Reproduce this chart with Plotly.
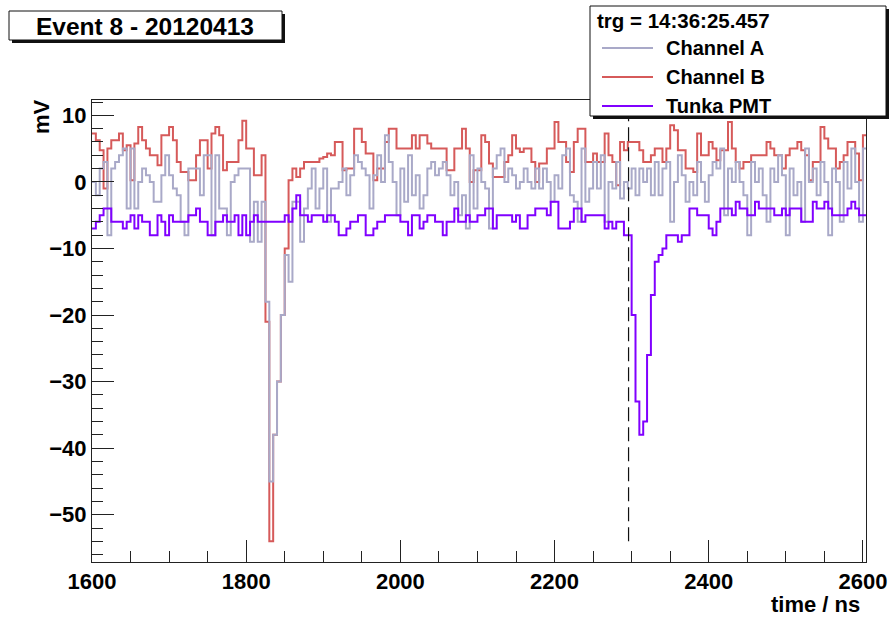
import numpy as np
import plotly.graph_objects as go

# Histogram binning (5 ns bins starting at 1600 ns)
t_start = 1600.0
bin_width = 5.0

# Channel A amplitude per bin (mV)
channel_a = [
    0, -2, 2, 3, -8, 2, 3, 4, 5, -4,
    5, -4, 0, 2, 1, 0, -3, -3, 1, 4,
    1, -1, -2, -6, -8, 2, 2, 2, -2, 4,
    4, -8, 4, -4, -4, -8, 0, 1, 2, 2,
    2, -9, -3, -9, -3, -18, -45, -38, -30, -20,
    -11, -15, -3, -3, -9, -4, -1, 2, -4, -1,
    2, -6, -1, -1, 0, 2, -2, 1, 4, 3,
    2, 1, -4, 1, 4, 0, 7, 3, 0, -5,
    2, -3, 4, -2, 1, -4, -2, 2, 3, 1,
    2, 3, 1, -2, 0, -5, -2, -7, 4, -4,
    2, 0, -1, -7, 2, 4, 5, 0, 2, 1,
    -1, 0, 2, 0, -1, 2, -1, 2, 0, -3,
    1, -1, 4, 5, -2, -3, -6, 5, -3, -1,
    3, -1, 4, -6, 0, -1, 3, -2.5, 0, -1,
    2, -2, 2, 0, 2, -2, 3, -2, 2, 3,
    -6, 0, 4, 1, -3, 0, -2, 3, 0, -3,
    1, 3, 2, 5, -5, 2, 0, 3, 0, -2,
    -8, 3, 0, 2, -2, -6, 2, 0, 4, 1,
    -8, 2, -2, 0, -6, 5, 0, 2, -2, 3,
    0, -8, 2, 0, -6, 3, -1, 5, 0, -6,
    5,
]

# Channel B amplitude per bin (mV)
channel_b = [
    7.25, 6.25, 4.75, -1, 5, 6.25, 6.25, 7.25, 4.75, 5.5,
    0.25, 5.75, 8.25, 6.25, 5, 4, 4, 2.5, 7, 7,
    8.25, 6.25, 3, 1.5, 1.5, 0.25, 0.25, 4, 6.25, 6.25,
    2, 7.25, 8.25, 7, 1.75, 3, 3, 3, 6.25, 9.2,
    5, 5, 1, 1, 4, -21, -54, -38, -30, -20,
    -10, 0.25, 2, 0.75, 2, 3, 3, 3, 3, 3.5,
    3.75, 4.25, 4, 6, 6, 1.75, 2, 2, 8, 8,
    6, 4.25, 4.25, 0.25, 2, 2, 6, 8, 8, 5,
    5, 5, 5, 7, 5, 7, 7, 5.75, 5, 5,
    5, 5, 1.75, 1.75, 5, 5, 8, 5, 0, 1.75,
    1.75, 7, 6, 2.75, 0.75, 0.75, 0.75, 3, 4, 7,
    5, 4.5, 5, 5, 3, 0, 2.75, 2.75, 5, 5,
    9, 6, 6, 3, 1.5, 6, 8, 8, 3, 3,
    4.25, 3, 3, 7.25, 4, 3, -0.5, 6, 4.75, 6,
    6, 6, 4.75, 3, 3, 4, 5, 5, 3, 5,
    8.5, 7.75, 4.75, 4.75, 2, 2, 1.5, 7.25, 4, 4,
    6, 5, 3.25, 4.75, 4.75, 9, 5, 3, 2, 3,
    3, 4, 4, 4, 4, 6, 5, 4, 4, 2,
    4, 5, 5, 6, 4.75, 4, 0.25, 3, 3, 8.25,
    6.5, 5, 5, 2, 3, 4, 6, 6, 4.25, 0.25,
    7,
]

# Tunka PMT amplitude per bin (mV)
tunka_pmt = [
    -7, -6, -5, -4, -4, -6, -6, -6, -7, -6,
    -5, -7, -5, -6, -6, -8, -8, -5, -6, -8,
    -5, -6, -6, -6, -6, -5, -5, -4, -6, -6,
    -8, -8, -6, -6, -5, -6, -6, -5, -8, -5,
    -8, -6, -5, -6, -6, -6, -6, -6, -6, -6,
    -5, -6, -4, -2, -5, -5, -6, -5, -5, -5,
    -6, -5, -5, -6, -8, -8, -7, -6, -6, -5,
    -5, -8, -8, -7, -6, -6, -5, -5, -5, -5,
    -6, -6, -8, -5, -5, -7, -6, -5, -5, -6,
    -6, -8, -6, -6, -4, -6, -6, -5, -6, -6,
    -5, -5, -4, -4, -7, -5, -5, -5, -5, -6,
    -5, -7, -7, -5, -5, -4, -4, -4, -5, -3,
    -3, -7, -7, -7, -6, -4, -4, -6, -5, -5,
    -5, -5, -5, -7, -6, -7, -6, -6, -8, -8,
    -20, -33, -38, -36, -26, -17, -12, -11, -10, -8,
    -8, -8, -9, -8, -8, -4, -4, -5, -5, -5,
    -7, -8, -6, -4, -4, -4, -5, -3, -4, -4,
    -5, -5, -3, -4, -4, -4, -4, -5, -5, -4,
    -5, -4, -4, -4, -6, -6, -6, -3, -4, -4,
    -3, -4, -5, -5, -5, -5, -4, -3, -4, -5,
    -5,
]

series_names = ["Channel A", "Channel B", "Tunka PMT"]
series_colors = ["#a9a9c8", "#d65a5a", "#8000ff"]

event_title = "Event 8 - 20120413"
trigger_label = "trg = 14:36:25.457"
trigger_time = 2296.0

x_range = [1600, 2604]
y_range = [-57.1, 12.3]

W, H = 891, 617
ML, MR, MT, MB = 92, 25, 100, 55
PW, PH = W - ML - MR, H - MT - MB


def px(X):
    return (X - ML) / PW


def py(Y):
    return (H - MB - Y) / PH


n_bins = len(channel_a)
edges = t_start + bin_width * np.arange(n_bins + 1)

fig = go.Figure()

# draw B first so that A and the PMT trace sit on top of it
for name in ["Channel B", "Channel A", "Tunka PMT"]:
    vals = {"Channel A": channel_a, "Channel B": channel_b, "Tunka PMT": tunka_pmt}[name]
    color = series_colors[series_names.index(name)]
    fig.add_trace(go.Scatter(
        x=edges, y=list(vals) + [vals[-1]],
        mode="lines", line=dict(color=color, width=2, shape="hv"),
        name=name, showlegend=False, hoverinfo="skip",
    ))

# trigger time marker
fig.add_trace(go.Scatter(
    x=[trigger_time, trigger_time], y=[min(channel_b), y_range[1]],
    mode="lines", line=dict(color="#111111", width=1.2, dash="14px,6px"),
    showlegend=False, hoverinfo="skip",
))

font_family = "Liberation Sans, Arial, Helvetica, sans-serif"
axis_common = dict(
    showline=True, linecolor="#222222", linewidth=1, mirror=True,
    ticks="inside", tickcolor="#222222", tickwidth=1,
    showgrid=False, zeroline=False, automargin=False,
    tickfont=dict(family=font_family, size=22, color="black", weight="bold"),
)

fig.update_xaxes(range=x_range, tick0=1600, dtick=200, ticklen=22,
                 minor=dict(ticks="inside", ticklen=11, dtick=50, tick0=1600,
                            tickcolor="#222222", tickwidth=1),
                 **axis_common)
fig.update_yaxes(range=y_range, tick0=0, dtick=10, ticklen=22,
                 minor=dict(ticks="inside", ticklen=11, dtick=2, tick0=0,
                            tickcolor="#222222", tickwidth=1),
                 **axis_common)

shapes = []
annotations = []

# title pave with shadow
tx0, ty0, tx1, ty1 = 9, 11, 282, 40
shapes.append(dict(type="rect", xref="paper", yref="paper", layer="above",
                   x0=px(tx0 + 3), x1=px(tx1 + 3), y0=py(ty0 + 3), y1=py(ty1 + 3),
                   fillcolor="#111111", line=dict(width=0)))
shapes.append(dict(type="rect", xref="paper", yref="paper", layer="above",
                   x0=px(tx0), x1=px(tx1), y0=py(ty0), y1=py(ty1),
                   fillcolor="white", line=dict(color="#111111", width=1)))
annotations.append(dict(text=event_title, xref="paper", yref="paper",
                        x=px((tx0 + tx1) / 2 - 1), y=py((ty0 + ty1) / 2 + 1),
                        xanchor="center", yanchor="middle", showarrow=False,
                        font=dict(family=font_family, size=24.5, color="black", weight="bold")))

# legend pave with shadow
lx0, ly0, lx1, ly1 = 590, 6, 886, 116
shapes.append(dict(type="rect", xref="paper", yref="paper", layer="above",
                   x0=px(lx0 + 3), x1=px(lx1 + 3), y0=py(ly0 + 3), y1=py(ly1 + 3),
                   fillcolor="#111111", line=dict(width=0)))
shapes.append(dict(type="rect", xref="paper", yref="paper", layer="above",
                   x0=px(lx0), x1=px(lx1), y0=py(ly0), y1=py(ly1),
                   fillcolor="white", line=dict(color="#111111", width=1)))
annotations.append(dict(text=trigger_label, xref="paper", yref="paper",
                        x=px(595), y=py(20), xanchor="left", yanchor="middle",
                        showarrow=False,
                        font=dict(family=font_family, size=20.5, color="black", weight="bold")))
for k, (name, color) in enumerate(zip(series_names, series_colors)):
    yy = 48 + 29 * k
    shapes.append(dict(type="line", xref="paper", yref="paper", layer="above",
                       x0=px(602), x1=px(653), y0=py(yy), y1=py(yy),
                       line=dict(color=color, width=2)))
    annotations.append(dict(text=name, xref="paper", yref="paper",
                            x=px(664), y=py(yy), xanchor="left", yanchor="middle",
                            showarrow=False,
                            font=dict(family=font_family, size=20, color="black", weight="bold")))

# axis titles
annotations.append(dict(text="time / ns", xref="paper", yref="paper",
                        x=px(862), y=py(604), xanchor="right", yanchor="middle",
                        showarrow=False,
                        font=dict(family=font_family, size=22, color="black", weight="bold")))
annotations.append(dict(text="mV", xref="paper", yref="paper",
                        x=px(41), y=py(116), xanchor="center", yanchor="middle",
                        textangle=-90, showarrow=False,
                        font=dict(family=font_family, size=22, color="black", weight="bold")))

fig.update_layout(
    width=W, height=H,
    margin=dict(l=ML, r=MR, t=MT, b=MB, autoexpand=False),
    paper_bgcolor="white", plot_bgcolor="white",
    showlegend=False,
    shapes=shapes, annotations=annotations,
)

fig.write_html("out.html")
